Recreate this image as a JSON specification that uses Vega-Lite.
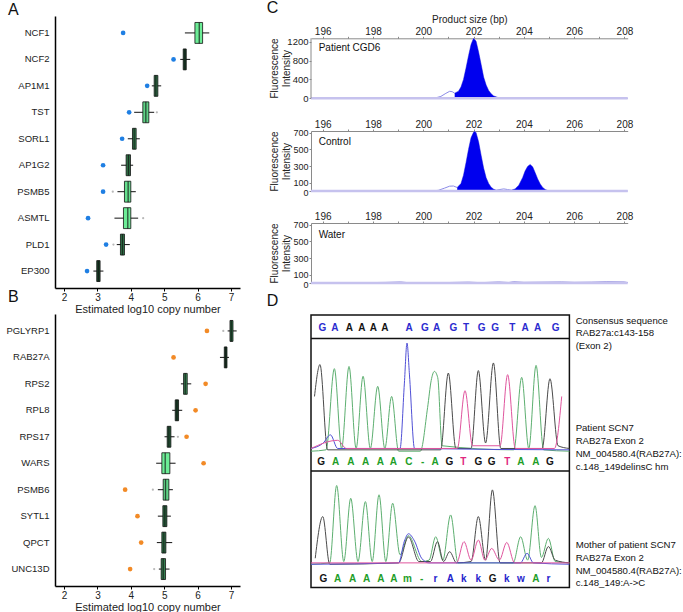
{
  "$schema": "https://vega.github.io/schema/vega-lite/v6.json",
  "padding": {"left": 5, "top": 0, "right": 0, "bottom": 0},
  "config": {
    "font": "Liberation Sans",
    "view": {"stroke": null},
    "title": {"fontWeight": "normal", "color": "#111"},
    "axis": {"labelColor": "#222", "titleColor": "#222", "grid": false, "titleFontWeight": "normal", "labelOverlap": false, "labelFlush": false}
  },
  "datasets": {
    "boxA": [
      {"gene": "NCF1", "lo": 5.62, "q1": 5.92, "med": 6.05, "q3": 6.15, "hi": 6.35, "sample": 3.77, "shade": 0.22},
      {"gene": "NCF2", "lo": 5.48, "q1": 5.57, "med": 5.62, "q3": 5.66, "hi": 5.78, "sample": 5.28, "shade": 0.08},
      {"gene": "AP1M1", "lo": 4.63, "q1": 4.70, "med": 4.75, "q3": 4.81, "hi": 4.91, "sample": 4.49, "shade": 0.12},
      {"gene": "TST", "lo": 4.10, "q1": 4.36, "med": 4.45, "q3": 4.54, "hi": 4.70, "sample": 3.95, "shade": 0.20},
      {"gene": "SORL1", "lo": 3.91, "q1": 4.05, "med": 4.10, "q3": 4.16, "hi": 4.27, "sample": 3.74, "shade": 0.13},
      {"gene": "AP1G2", "lo": 3.71, "q1": 3.86, "med": 3.93, "q3": 3.99, "hi": 4.07, "sample": 3.17, "shade": 0.12},
      {"gene": "PSMB5", "lo": 3.60, "q1": 3.81, "med": 3.92, "q3": 4.00, "hi": 4.15, "sample": 3.17, "shade": 0.21},
      {"gene": "ASMTL", "lo": 3.51, "q1": 3.78, "med": 3.91, "q3": 4.00, "hi": 4.22, "sample": 2.72, "shade": 0.22},
      {"gene": "PLD1", "lo": 3.58, "q1": 3.69, "med": 3.75, "q3": 3.81, "hi": 3.97, "sample": 3.26, "shade": 0.12},
      {"gene": "EP300", "lo": 2.88, "q1": 2.98, "med": 3.03, "q3": 3.08, "hi": 3.18, "sample": 2.69, "shade": 0.08}
    ],
    "boxB": [
      {"gene": "PGLYRP1", "lo": 6.90, "q1": 6.97, "med": 7.01, "q3": 7.06, "hi": 7.17, "sample": 6.28, "shade": 0.12},
      {"gene": "RAB27A", "lo": 6.67, "q1": 6.80, "med": 6.84, "q3": 6.88, "hi": 6.94, "sample": 5.28, "shade": 0.08},
      {"gene": "RPS2", "lo": 5.50, "q1": 5.58, "med": 5.63, "q3": 5.69, "hi": 5.81, "sample": 6.24, "shade": 0.14},
      {"gene": "RPL8", "lo": 5.24, "q1": 5.33, "med": 5.38, "q3": 5.43, "hi": 5.54, "sample": 5.94, "shade": 0.08},
      {"gene": "RPS17", "lo": 5.01, "q1": 5.09, "med": 5.14, "q3": 5.20, "hi": 5.31, "sample": 5.67, "shade": 0.10},
      {"gene": "WARS", "lo": 4.76, "q1": 4.93, "med": 5.03, "q3": 5.17, "hi": 5.34, "sample": 6.18, "shade": 0.22},
      {"gene": "PSMB6", "lo": 4.81, "q1": 4.97, "med": 5.04, "q3": 5.14, "hi": 5.26, "sample": 3.83, "shade": 0.20},
      {"gene": "SYTL1", "lo": 4.81, "q1": 4.96, "med": 5.02, "q3": 5.08, "hi": 5.20, "sample": 4.20, "shade": 0.11},
      {"gene": "QPCT", "lo": 4.78, "q1": 4.93, "med": 4.99, "q3": 5.05, "hi": 5.24, "sample": 4.31, "shade": 0.12},
      {"gene": "UNC13D", "lo": 4.84, "q1": 4.91, "med": 4.97, "q3": 5.04, "hi": 5.16, "sample": 3.98, "shade": 0.13}
    ],
    "outA": [
      {"gene": "TST", "value": 4.78},
      {"gene": "PSMB5", "value": 3.46},
      {"gene": "ASMTL", "value": 4.37},
      {"gene": "PLD1", "value": 3.48}
    ],
    "outB": [
      {"gene": "PGLYRP1", "value": 6.77},
      {"gene": "RPS17", "value": 5.41},
      {"gene": "PSMB6", "value": 4.66},
      {"gene": "UNC13D", "value": 4.70}
    ],
    "ce": [
      {"panel": "CGD6", "seg": "flat", "bp": 195.53, "v": 0},
      {"panel": "CGD6", "seg": "flat", "bp": 199.8, "v": 0},
      {"panel": "CGD6", "seg": "flat", "bp": 200.3, "v": 3},
      {"panel": "CGD6", "seg": "bump", "bp": 200.5, "v": 10},
      {"panel": "CGD6", "seg": "bump", "bp": 200.7, "v": 40},
      {"panel": "CGD6", "seg": "bump", "bp": 200.9, "v": 105},
      {"panel": "CGD6", "seg": "bump", "bp": 201.05, "v": 148},
      {"panel": "CGD6", "seg": "bump", "bp": 201.15, "v": 140},
      {"panel": "CGD6", "seg": "bump", "bp": 201.25, "v": 108},
      {"panel": "CGD6", "seg": "peak1", "bp": 201.25, "v": 108},
      {"panel": "CGD6", "seg": "peak1", "bp": 201.4, "v": 150},
      {"panel": "CGD6", "seg": "peak1", "bp": 201.5, "v": 240},
      {"panel": "CGD6", "seg": "peak1", "bp": 201.6, "v": 400},
      {"panel": "CGD6", "seg": "peak1", "bp": 201.7, "v": 640},
      {"panel": "CGD6", "seg": "peak1", "bp": 201.8, "v": 900},
      {"panel": "CGD6", "seg": "peak1", "bp": 201.9, "v": 1140},
      {"panel": "CGD6", "seg": "peak1", "bp": 202.0, "v": 1270},
      {"panel": "CGD6", "seg": "peak1", "bp": 202.1, "v": 1210},
      {"panel": "CGD6", "seg": "peak1", "bp": 202.2, "v": 980},
      {"panel": "CGD6", "seg": "peak1", "bp": 202.3, "v": 720},
      {"panel": "CGD6", "seg": "peak1", "bp": 202.4, "v": 450},
      {"panel": "CGD6", "seg": "peak1", "bp": 202.5, "v": 280},
      {"panel": "CGD6", "seg": "peak1", "bp": 202.6, "v": 165},
      {"panel": "CGD6", "seg": "peak1", "bp": 202.7, "v": 95},
      {"panel": "CGD6", "seg": "peak1", "bp": 202.8, "v": 50},
      {"panel": "CGD6", "seg": "peak1", "bp": 202.95, "v": 20},
      {"panel": "CGD6", "seg": "peak1", "bp": 203.1, "v": 6},
      {"panel": "CGD6", "seg": "peak1", "bp": 203.3, "v": 0},
      {"panel": "CGD6", "seg": "flat", "bp": 204.0, "v": 0},
      {"panel": "CGD6", "seg": "flat", "bp": 208.13, "v": 0},
      {"panel": "Control", "seg": "flat", "bp": 195.53, "v": 0},
      {"panel": "Control", "seg": "flat", "bp": 200.3, "v": 0},
      {"panel": "Control", "seg": "bump", "bp": 200.6, "v": 8},
      {"panel": "Control", "seg": "bump", "bp": 200.85, "v": 35},
      {"panel": "Control", "seg": "bump", "bp": 201.05, "v": 58},
      {"panel": "Control", "seg": "bump", "bp": 201.2, "v": 60},
      {"panel": "Control", "seg": "bump", "bp": 201.35, "v": 42},
      {"panel": "Control", "seg": "peak1", "bp": 201.35, "v": 42},
      {"panel": "Control", "seg": "peak1", "bp": 201.5, "v": 90},
      {"panel": "Control", "seg": "peak1", "bp": 201.6, "v": 190},
      {"panel": "Control", "seg": "peak1", "bp": 201.7, "v": 340},
      {"panel": "Control", "seg": "peak1", "bp": 201.8, "v": 500},
      {"panel": "Control", "seg": "peak1", "bp": 201.9, "v": 640},
      {"panel": "Control", "seg": "peak1", "bp": 202.0, "v": 705},
      {"panel": "Control", "seg": "peak1", "bp": 202.05, "v": 718},
      {"panel": "Control", "seg": "peak1", "bp": 202.1, "v": 700},
      {"panel": "Control", "seg": "peak1", "bp": 202.2, "v": 590},
      {"panel": "Control", "seg": "peak1", "bp": 202.3, "v": 430},
      {"panel": "Control", "seg": "peak1", "bp": 202.4, "v": 275},
      {"panel": "Control", "seg": "peak1", "bp": 202.5, "v": 160},
      {"panel": "Control", "seg": "peak1", "bp": 202.6, "v": 90},
      {"panel": "Control", "seg": "peak1", "bp": 202.7, "v": 45},
      {"panel": "Control", "seg": "peak1", "bp": 202.8, "v": 22},
      {"panel": "Control", "seg": "peak1", "bp": 202.9, "v": 10},
      {"panel": "Control", "seg": "gap", "bp": 203.05, "v": 18},
      {"panel": "Control", "seg": "gap", "bp": 203.2, "v": 25},
      {"panel": "Control", "seg": "gap", "bp": 203.35, "v": 18},
      {"panel": "Control", "seg": "gap", "bp": 203.5, "v": 10},
      {"panel": "Control", "seg": "peak2", "bp": 203.5, "v": 10},
      {"panel": "Control", "seg": "peak2", "bp": 203.65, "v": 25},
      {"panel": "Control", "seg": "peak2", "bp": 203.8, "v": 70},
      {"panel": "Control", "seg": "peak2", "bp": 203.95, "v": 160},
      {"panel": "Control", "seg": "peak2", "bp": 204.05, "v": 240},
      {"panel": "Control", "seg": "peak2", "bp": 204.15, "v": 295},
      {"panel": "Control", "seg": "peak2", "bp": 204.25, "v": 318},
      {"panel": "Control", "seg": "peak2", "bp": 204.35, "v": 290},
      {"panel": "Control", "seg": "peak2", "bp": 204.45, "v": 220},
      {"panel": "Control", "seg": "peak2", "bp": 204.55, "v": 145},
      {"panel": "Control", "seg": "peak2", "bp": 204.65, "v": 85},
      {"panel": "Control", "seg": "peak2", "bp": 204.75, "v": 42},
      {"panel": "Control", "seg": "peak2", "bp": 204.85, "v": 18},
      {"panel": "Control", "seg": "peak2", "bp": 204.95, "v": 6},
      {"panel": "Control", "seg": "peak2", "bp": 205.1, "v": 0},
      {"panel": "Control", "seg": "flat", "bp": 208.13, "v": 0},
      {"panel": "Water", "seg": "flat", "bp": 195.53, "v": 3},
      {"panel": "Water", "seg": "flat", "bp": 196.5, "v": 6},
      {"panel": "Water", "seg": "flat", "bp": 197.3, "v": 3},
      {"panel": "Water", "seg": "flat", "bp": 198.5, "v": 7},
      {"panel": "Water", "seg": "flat", "bp": 199.1, "v": 12},
      {"panel": "Water", "seg": "flat", "bp": 199.4, "v": 4},
      {"panel": "Water", "seg": "flat", "bp": 200.5, "v": 3},
      {"panel": "Water", "seg": "flat", "bp": 201.8, "v": 10},
      {"panel": "Water", "seg": "flat", "bp": 202.3, "v": 4},
      {"panel": "Water", "seg": "flat", "bp": 203.0, "v": 12},
      {"panel": "Water", "seg": "flat", "bp": 203.4, "v": 6},
      {"panel": "Water", "seg": "flat", "bp": 203.6, "v": 14},
      {"panel": "Water", "seg": "flat", "bp": 204.0, "v": 8},
      {"panel": "Water", "seg": "flat", "bp": 205.5, "v": 12},
      {"panel": "Water", "seg": "flat", "bp": 206.0, "v": 8},
      {"panel": "Water", "seg": "flat", "bp": 206.7, "v": 10},
      {"panel": "Water", "seg": "flat", "bp": 207.3, "v": 14},
      {"panel": "Water", "seg": "flat", "bp": 208.0, "v": 12},
      {"panel": "Water", "seg": "flat", "bp": 208.13, "v": 5}
    ],
    "trace": [
      {"lane": "pA", "dye": "A", "pos": 0.16, "sig": 50},
      {"lane": "pA", "dye": "A", "pos": 1.2, "sig": 50.5},
      {"lane": "pA", "dye": "A", "pos": 1.77, "sig": 80.3},
      {"lane": "pA", "dye": "A", "pos": 2.27, "sig": 51},
      {"lane": "pA", "dye": "A", "pos": 2.78, "sig": 81.1},
      {"lane": "pA", "dye": "A", "pos": 3.27, "sig": 51},
      {"lane": "pA", "dye": "A", "pos": 3.75, "sig": 77.5},
      {"lane": "pA", "dye": "A", "pos": 4.25, "sig": 51},
      {"lane": "pA", "dye": "A", "pos": 4.76, "sig": 73.8},
      {"lane": "pA", "dye": "A", "pos": 5.25, "sig": 51},
      {"lane": "pA", "dye": "A", "pos": 5.72, "sig": 70.1},
      {"lane": "pA", "dye": "A", "pos": 6.2, "sig": 50},
      {"lane": "pA", "dye": "A", "pos": 7.7, "sig": 50},
      {"lane": "pA", "dye": "A", "pos": 8.2, "sig": 66},
      {"lane": "pA", "dye": "A", "pos": 8.45, "sig": 76},
      {"lane": "pA", "dye": "A", "pos": 8.67, "sig": 79.3},
      {"lane": "pA", "dye": "A", "pos": 8.9, "sig": 77},
      {"lane": "pA", "dye": "A", "pos": 9.2, "sig": 52},
      {"lane": "pA", "dye": "A", "pos": 14.15, "sig": 50.5},
      {"lane": "pA", "dye": "A", "pos": 14.69, "sig": 77.1},
      {"lane": "pA", "dye": "A", "pos": 15.18, "sig": 51},
      {"lane": "pA", "dye": "A", "pos": 15.68, "sig": 81.5},
      {"lane": "pA", "dye": "A", "pos": 16.2, "sig": 50.5},
      {"lane": "pA", "dye": "A", "pos": 17.98, "sig": 50},
      {"lane": "pG", "dye": "G", "pos": 0.4, "sig": 70.1},
      {"lane": "pG", "dye": "G", "pos": 0.78, "sig": 81.8},
      {"lane": "pG", "dye": "G", "pos": 1.3, "sig": 50.5},
      {"lane": "pG", "dye": "G", "pos": 9.1, "sig": 50.5},
      {"lane": "pG", "dye": "G", "pos": 9.63, "sig": 78.7},
      {"lane": "pG", "dye": "G", "pos": 10.15, "sig": 51},
      {"lane": "pG", "dye": "G", "pos": 11.2, "sig": 51},
      {"lane": "pG", "dye": "G", "pos": 11.7, "sig": 79.6},
      {"lane": "pG", "dye": "G", "pos": 12.2, "sig": 53},
      {"lane": "pG", "dye": "G", "pos": 12.74, "sig": 82.4},
      {"lane": "pG", "dye": "G", "pos": 13.25, "sig": 51},
      {"lane": "pG", "dye": "G", "pos": 16.1, "sig": 51},
      {"lane": "pG", "dye": "G", "pos": 16.64, "sig": 76.6},
      {"lane": "pG", "dye": "G", "pos": 17.2, "sig": 52},
      {"lane": "pG", "dye": "G", "pos": 17.98, "sig": 51},
      {"lane": "pC", "dye": "C", "pos": 0.16, "sig": 51},
      {"lane": "pC", "dye": "C", "pos": 1.0, "sig": 53},
      {"lane": "pC", "dye": "C", "pos": 1.5, "sig": 56},
      {"lane": "pC", "dye": "C", "pos": 2.0, "sig": 51},
      {"lane": "pC", "dye": "C", "pos": 6.3, "sig": 51},
      {"lane": "pC", "dye": "C", "pos": 6.6, "sig": 75},
      {"lane": "pC", "dye": "C", "pos": 6.78, "sig": 89.7},
      {"lane": "pC", "dye": "C", "pos": 6.95, "sig": 78},
      {"lane": "pC", "dye": "C", "pos": 7.3, "sig": 51},
      {"lane": "pC", "dye": "C", "pos": 17.98, "sig": 50.5},
      {"lane": "pT", "dye": "T", "pos": 0.16, "sig": 51},
      {"lane": "pT", "dye": "T", "pos": 2.0, "sig": 54},
      {"lane": "pT", "dye": "T", "pos": 2.6, "sig": 51},
      {"lane": "pT", "dye": "T", "pos": 10.25, "sig": 51},
      {"lane": "pT", "dye": "T", "pos": 10.78, "sig": 72.2},
      {"lane": "pT", "dye": "T", "pos": 11.3, "sig": 52},
      {"lane": "pT", "dye": "T", "pos": 13.2, "sig": 52},
      {"lane": "pT", "dye": "T", "pos": 13.72, "sig": 78.1},
      {"lane": "pT", "dye": "T", "pos": 14.25, "sig": 51},
      {"lane": "pT", "dye": "T", "pos": 16.95, "sig": 51},
      {"lane": "pT", "dye": "T", "pos": 17.45, "sig": 70.1},
      {"lane": "mA", "dye": "A", "pos": 0.16, "sig": 8.5},
      {"lane": "mA", "dye": "A", "pos": 1.45, "sig": 9},
      {"lane": "mA", "dye": "A", "pos": 1.93, "sig": 37.4},
      {"lane": "mA", "dye": "A", "pos": 2.42, "sig": 9.5},
      {"lane": "mA", "dye": "A", "pos": 2.9, "sig": 32.7},
      {"lane": "mA", "dye": "A", "pos": 3.4, "sig": 9.5},
      {"lane": "mA", "dye": "A", "pos": 3.91, "sig": 31.5},
      {"lane": "mA", "dye": "A", "pos": 4.38, "sig": 9.5},
      {"lane": "mA", "dye": "A", "pos": 4.85, "sig": 34.0},
      {"lane": "mA", "dye": "A", "pos": 5.32, "sig": 9.5},
      {"lane": "mA", "dye": "A", "pos": 5.79, "sig": 30.9},
      {"lane": "mA", "dye": "A", "pos": 6.3, "sig": 12},
      {"lane": "mA", "dye": "A", "pos": 6.88, "sig": 19.0},
      {"lane": "mA", "dye": "A", "pos": 7.8, "sig": 9.5},
      {"lane": "mA", "dye": "A", "pos": 8.3, "sig": 10},
      {"lane": "mA", "dye": "A", "pos": 8.76, "sig": 18.6},
      {"lane": "mA", "dye": "A", "pos": 9.25, "sig": 10},
      {"lane": "mA", "dye": "A", "pos": 9.79, "sig": 26.6},
      {"lane": "mA", "dye": "A", "pos": 10.3, "sig": 9},
      {"lane": "mA", "dye": "A", "pos": 14.1, "sig": 9},
      {"lane": "mA", "dye": "A", "pos": 14.62, "sig": 18.6},
      {"lane": "mA", "dye": "A", "pos": 15.1, "sig": 10},
      {"lane": "mA", "dye": "A", "pos": 15.61, "sig": 30.0},
      {"lane": "mA", "dye": "A", "pos": 16.05, "sig": 11},
      {"lane": "mA", "dye": "A", "pos": 16.53, "sig": 18.0},
      {"lane": "mA", "dye": "A", "pos": 17.0, "sig": 9.5},
      {"lane": "mA", "dye": "A", "pos": 17.98, "sig": 9},
      {"lane": "mG", "dye": "G", "pos": 0.45, "sig": 10.7},
      {"lane": "mG", "dye": "G", "pos": 0.97, "sig": 26.0},
      {"lane": "mG", "dye": "G", "pos": 1.45, "sig": 8.5},
      {"lane": "mG", "dye": "G", "pos": 6.2, "sig": 9},
      {"lane": "mG", "dye": "G", "pos": 6.88, "sig": 18.5},
      {"lane": "mG", "dye": "G", "pos": 7.6, "sig": 9.5},
      {"lane": "mG", "dye": "G", "pos": 8.4, "sig": 9.5},
      {"lane": "mG", "dye": "G", "pos": 8.88, "sig": 16.8},
      {"lane": "mG", "dye": "G", "pos": 9.3, "sig": 9.5},
      {"lane": "mG", "dye": "G", "pos": 9.72, "sig": 13.1},
      {"lane": "mG", "dye": "G", "pos": 10.2, "sig": 9},
      {"lane": "mG", "dye": "G", "pos": 11.2, "sig": 9.5},
      {"lane": "mG", "dye": "G", "pos": 11.7, "sig": 26.0},
      {"lane": "mG", "dye": "G", "pos": 12.2, "sig": 10},
      {"lane": "mG", "dye": "G", "pos": 12.67, "sig": 35.8},
      {"lane": "mG", "dye": "G", "pos": 13.2, "sig": 9},
      {"lane": "mG", "dye": "G", "pos": 16.05, "sig": 9},
      {"lane": "mG", "dye": "G", "pos": 16.53, "sig": 15.0},
      {"lane": "mG", "dye": "G", "pos": 17.0, "sig": 10},
      {"lane": "mG", "dye": "G", "pos": 17.98, "sig": 9},
      {"lane": "mC", "dye": "C", "pos": 0.16, "sig": 8.5},
      {"lane": "mC", "dye": "C", "pos": 6.2, "sig": 9},
      {"lane": "mC", "dye": "C", "pos": 6.6, "sig": 17},
      {"lane": "mC", "dye": "C", "pos": 6.88, "sig": 19.7},
      {"lane": "mC", "dye": "C", "pos": 7.3, "sig": 17},
      {"lane": "mC", "dye": "C", "pos": 7.79, "sig": 10.7},
      {"lane": "mC", "dye": "C", "pos": 8.3, "sig": 9},
      {"lane": "mC", "dye": "C", "pos": 14.6, "sig": 9},
      {"lane": "mC", "dye": "C", "pos": 15.06, "sig": 12.5},
      {"lane": "mC", "dye": "C", "pos": 15.5, "sig": 9},
      {"lane": "mC", "dye": "C", "pos": 17.98, "sig": 8.5},
      {"lane": "mT", "dye": "T", "pos": 0.16, "sig": 9},
      {"lane": "mT", "dye": "T", "pos": 10.2, "sig": 9},
      {"lane": "mT", "dye": "T", "pos": 10.71, "sig": 16.8},
      {"lane": "mT", "dye": "T", "pos": 11.2, "sig": 10},
      {"lane": "mT", "dye": "T", "pos": 11.7, "sig": 17.4},
      {"lane": "mT", "dye": "T", "pos": 12.15, "sig": 10},
      {"lane": "mT", "dye": "T", "pos": 12.62, "sig": 14.3},
      {"lane": "mT", "dye": "T", "pos": 13.15, "sig": 10},
      {"lane": "mT", "dye": "T", "pos": 13.66, "sig": 16.5},
      {"lane": "mT", "dye": "T", "pos": 14.2, "sig": 9},
      {"lane": "mT", "dye": "T", "pos": 17.98, "sig": 9}
    ],
    "seq": [
      {"lane": "consensus", "pos": 0.94, "base": "G", "dye": "cons"},
      {"lane": "consensus", "pos": 1.81, "base": "A", "dye": "cons"},
      {"lane": "consensus", "pos": 2.81, "base": "A", "dye": "consk"},
      {"lane": "consensus", "pos": 3.66, "base": "A", "dye": "consk"},
      {"lane": "consensus", "pos": 4.46, "base": "A", "dye": "consk"},
      {"lane": "consensus", "pos": 5.26, "base": "A", "dye": "consk"},
      {"lane": "consensus", "pos": 6.92, "base": "A", "dye": "cons"},
      {"lane": "consensus", "pos": 8.02, "base": "G", "dye": "cons"},
      {"lane": "consensus", "pos": 8.83, "base": "A", "dye": "cons"},
      {"lane": "consensus", "pos": 9.98, "base": "G", "dye": "cons"},
      {"lane": "consensus", "pos": 10.85, "base": "T", "dye": "cons"},
      {"lane": "consensus", "pos": 11.93, "base": "G", "dye": "cons"},
      {"lane": "consensus", "pos": 12.85, "base": "G", "dye": "cons"},
      {"lane": "consensus", "pos": 14.05, "base": "T", "dye": "cons"},
      {"lane": "consensus", "pos": 14.92, "base": "A", "dye": "cons"},
      {"lane": "consensus", "pos": 15.79, "base": "A", "dye": "cons"},
      {"lane": "consensus", "pos": 17.03, "base": "G", "dye": "cons"},
      {"lane": "patient", "pos": 0.85, "base": "G", "dye": "G"},
      {"lane": "patient", "pos": 1.86, "base": "A", "dye": "A"},
      {"lane": "patient", "pos": 2.9, "base": "A", "dye": "A"},
      {"lane": "patient", "pos": 3.93, "base": "A", "dye": "A"},
      {"lane": "patient", "pos": 4.94, "base": "A", "dye": "A"},
      {"lane": "patient", "pos": 5.84, "base": "A", "dye": "A"},
      {"lane": "patient", "pos": 6.9, "base": "C", "dye": "A"},
      {"lane": "patient", "pos": 7.86, "base": "-", "dye": "A"},
      {"lane": "patient", "pos": 8.71, "base": "A", "dye": "A"},
      {"lane": "patient", "pos": 9.7, "base": "G", "dye": "G"},
      {"lane": "patient", "pos": 10.67, "base": "T", "dye": "T"},
      {"lane": "patient", "pos": 11.7, "base": "G", "dye": "G"},
      {"lane": "patient", "pos": 12.62, "base": "G", "dye": "G"},
      {"lane": "patient", "pos": 13.7, "base": "T", "dye": "T"},
      {"lane": "patient", "pos": 14.64, "base": "A", "dye": "A"},
      {"lane": "patient", "pos": 15.66, "base": "A", "dye": "A"},
      {"lane": "patient", "pos": 16.64, "base": "G", "dye": "G"},
      {"lane": "mother", "pos": 1.01, "base": "G", "dye": "G"},
      {"lane": "mother", "pos": 2.0, "base": "A", "dye": "A"},
      {"lane": "mother", "pos": 3.03, "base": "A", "dye": "A"},
      {"lane": "mother", "pos": 4.0, "base": "A", "dye": "A"},
      {"lane": "mother", "pos": 4.97, "base": "A", "dye": "A"},
      {"lane": "mother", "pos": 5.88, "base": "A", "dye": "A"},
      {"lane": "mother", "pos": 6.81, "base": "m", "dye": "A"},
      {"lane": "mother", "pos": 7.79, "base": "-", "dye": "A"},
      {"lane": "mother", "pos": 8.74, "base": "r", "dye": "N"},
      {"lane": "mother", "pos": 9.77, "base": "A", "dye": "N"},
      {"lane": "mother", "pos": 10.69, "base": "k", "dye": "N"},
      {"lane": "mother", "pos": 11.7, "base": "k", "dye": "N"},
      {"lane": "mother", "pos": 12.69, "base": "G", "dye": "G"},
      {"lane": "mother", "pos": 13.66, "base": "k", "dye": "N"},
      {"lane": "mother", "pos": 14.64, "base": "w", "dye": "N"},
      {"lane": "mother", "pos": 15.66, "base": "A", "dye": "A"},
      {"lane": "mother", "pos": 16.53, "base": "r", "dye": "N"}
    ]
  },
  "spacing": 25,
  "hconcat": [
    {
      "bounds": "flush",
      "spacing": 26,
      "vconcat": [
        {
          "width": 185,
          "height": 272,
          "title": {"text": "A", "anchor": "start", "frame": "group", "dx": -47, "offset": -2, "fontSize": 16},
          "encoding": {
            "y": {"field": "gene", "type": "nominal", "title": null,
              "scale": {"domain": ["NCF1", "NCF2", "AP1M1", "TST", "SORL1", "AP1G2", "PSMB5", "ASMTL", "PLD1", "EP300"], "paddingInner": 0, "paddingOuter": 0.14},
              "axis": {"ticks": false, "labelPadding": 6, "labelFontSize": 9.5, "domainColor": "#000", "domainWidth": 1.5}}
          },
          "layer": [
            {"data": {"name": "boxA"}, "mark": {"type": "rule", "color": "#111", "strokeWidth": 1},
              "encoding": {
                "x": {"field": "lo", "type": "quantitative", "title": "Estimated log10 copy number",
                  "scale": {"domain": [1.73, 7.27], "nice": false, "zero": false},
                  "axis": {"values": [2, 3, 4, 5, 6, 7], "tickCount": 20, "format": "d", "domainColor": "#000", "domainWidth": 1.5, "tickColor": "#000", "tickSize": 3, "labelFontSize": 10, "labelPadding": 1, "titleFontSize": 11, "titlePadding": 1}},
                "x2": {"field": "hi"}}},
            {"data": {"name": "outA"}, "mark": {"type": "circle", "color": "#b8b8b8", "size": 5, "opacity": 1},
              "encoding": {"x": {"field": "value", "type": "quantitative", "title": "Estimated log10 copy number"}}},
            {"data": {"name": "boxA"}, "mark": {"type": "bar", "height": {"band": 0.79}, "stroke": "#111", "strokeWidth": 0.8},
              "encoding": {
                "x": {"field": "q1", "type": "quantitative", "title": "Estimated log10 copy number"},
                "x2": {"field": "q3"},
                "color": {"field": "shade", "type": "quantitative", "scale": {"domain": [0.08, 0.22], "range": ["#1b4a2d", "#6cec96"]}, "legend": null}}},
            {"data": {"name": "boxA"}, "mark": {"type": "tick", "orient": "vertical", "size": 21, "thickness": 1.3, "color": "#111"},
              "encoding": {"x": {"field": "med", "type": "quantitative", "title": "Estimated log10 copy number"}}},
            {"data": {"name": "boxA"}, "mark": {"type": "circle", "size": 22, "color": "#1f7fe3", "opacity": 1},
              "encoding": {"x": {"field": "sample", "type": "quantitative", "title": "Estimated log10 copy number"}}}
          ]
        },
        {
          "width": 185,
          "height": 272,
          "title": {"text": "B", "anchor": "start", "frame": "group", "dx": -47, "offset": 9, "fontSize": 16},
          "encoding": {
            "y": {"field": "gene", "type": "nominal", "title": null,
              "scale": {"domain": ["PGLYRP1", "RAB27A", "RPS2", "RPL8", "RPS17", "WARS", "PSMB6", "SYTL1", "QPCT", "UNC13D"], "paddingInner": 0, "paddingOuter": 0.14},
              "axis": {"ticks": false, "labelPadding": 6, "labelFontSize": 9.5, "domainColor": "#000", "domainWidth": 1.5}}
          },
          "layer": [
            {"data": {"name": "boxB"}, "mark": {"type": "rule", "color": "#111", "strokeWidth": 1},
              "encoding": {
                "x": {"field": "lo", "type": "quantitative", "title": "Estimated log10 copy number",
                  "scale": {"domain": [1.73, 7.27], "nice": false, "zero": false},
                  "axis": {"values": [2, 3, 4, 5, 6, 7], "tickCount": 20, "format": "d", "domainColor": "#000", "domainWidth": 1.5, "tickColor": "#000", "tickSize": 3, "labelFontSize": 10, "labelPadding": 1, "titleFontSize": 11, "titlePadding": 1}},
                "x2": {"field": "hi"}}},
            {"data": {"name": "outB"}, "mark": {"type": "circle", "color": "#b8b8b8", "size": 5, "opacity": 1},
              "encoding": {"x": {"field": "value", "type": "quantitative", "title": "Estimated log10 copy number"}}},
            {"data": {"name": "boxB"}, "mark": {"type": "bar", "height": {"band": 0.79}, "stroke": "#111", "strokeWidth": 0.8},
              "encoding": {
                "x": {"field": "q1", "type": "quantitative", "title": "Estimated log10 copy number"},
                "x2": {"field": "q3"},
                "color": {"field": "shade", "type": "quantitative", "scale": {"domain": [0.08, 0.22], "range": ["#1b4a2d", "#6cec96"]}, "legend": null}}},
            {"data": {"name": "boxB"}, "mark": {"type": "tick", "orient": "vertical", "size": 21, "thickness": 1.3, "color": "#111"},
              "encoding": {"x": {"field": "med", "type": "quantitative", "title": "Estimated log10 copy number"}}},
            {"data": {"name": "boxB"}, "mark": {"type": "circle", "size": 22, "color": "#f28a26", "opacity": 1},
              "encoding": {"x": {"field": "sample", "type": "quantitative", "title": "Estimated log10 copy number"}}}
          ]
        }
      ]
    },
    {
      "bounds": "flush",
      "spacing": 32,
      "vconcat": [
        {
          "width": 316.7,
          "height": 82.3,
          "title": {"text": "C", "anchor": "start", "frame": "group", "dx": -44.3, "offset": -2, "fontSize": 16},
          "data": {"name": "ce"},
          "layer": [
            {"transform": [{"filter": "datum.panel == 'CGD6'"}], "mark": {"type": "line", "color": "#8b8be8", "strokeWidth": 1},
              "encoding": {
                "x": {"field": "bp", "type": "quantitative", "title": "Product size (bp)",
                  "scale": {"domain": [195.535, 208.13], "nice": false, "zero": false},
                  "axis": {"orient": "top", "offset": -22.3, "values": [196, 197, 198, 199, 200, 201, 202, 203, 204, 205, 206, 207, 208], "tickCount": 30, "format": "d", "labelExpr": "datum.value % 2 == 0 ? datum.label : ''", "tickSize": 2, "labelPadding": 0, "titlePadding": 2, "domainColor": "#8a8a8a", "tickColor": "#8a8a8a", "labelFontSize": 10, "titleFontSize": 10}},
                "y": {"field": "v", "type": "quantitative", "title": ["Fluorescence", "Intensity"],
                  "scale": {"domain": [0, 1742], "nice": false},
                  "axis": {"values": [0, 400, 800, 1200], "tickCount": 20, "format": "d", "domain": false, "titleX": -32, "titleY": 52, "titleFontSize": 10, "titleLineHeight": 12, "tickSize": 2, "labelPadding": 1, "labelFontSize": 9.5, "tickColor": "#8a8a8a"}}}},
            {"transform": [{"filter": "datum.panel == 'CGD6' && (datum.seg == 'peak1' || datum.seg == 'peak2')"}], "mark": {"type": "area", "color": "#0000ee", "opacity": 1},
              "encoding": {
                "x": {"field": "bp", "type": "quantitative", "title": "Product size (bp)"},
                "y": {"field": "v", "type": "quantitative", "title": ["Fluorescence", "Intensity"]},
                "detail": {"field": "seg"}}},
            {"data": {"values": [{"level": 0}]}, "mark": {"type": "rule", "color": "#c6c2ee", "strokeWidth": 2.5},
              "encoding": {"y": {"field": "level", "type": "quantitative", "title": ["Fluorescence", "Intensity"]}}},
            {"data": {"values": [{"bp": 195.535, "lo": 0, "hi": 1270}]}, "mark": {"type": "rule", "color": "#8a8a8a", "strokeWidth": 1},
              "encoding": {"x": {"field": "bp", "type": "quantitative", "title": "Product size (bp)"}, "y": {"field": "lo", "type": "quantitative", "title": ["Fluorescence", "Intensity"]}, "y2": {"field": "hi"}}},
            {"data": {"values": [{"bp": 195.84, "v": 1065, "label": "Patient CGD6"}]}, "mark": {"type": "text", "align": "left", "baseline": "middle", "fontSize": 10, "color": "#111"},
              "encoding": {"x": {"field": "bp", "type": "quantitative", "title": "Product size (bp)"}, "y": {"field": "v", "type": "quantitative", "title": ["Fluorescence", "Intensity"]}, "text": {"field": "label"}}}
          ]
        },
        {
          "width": 316.7,
          "height": 60,
          "data": {"name": "ce"},
          "layer": [
            {"transform": [{"filter": "datum.panel == 'Control'"}], "mark": {"type": "line", "color": "#8b8be8", "strokeWidth": 1},
              "encoding": {
                "x": {"field": "bp", "type": "quantitative", "title": null,
                  "scale": {"domain": [195.535, 208.13], "nice": false, "zero": false},
                  "axis": {"orient": "top", "values": [196, 197, 198, 199, 200, 201, 202, 203, 204, 205, 206, 207, 208], "tickCount": 30, "format": "d", "labelExpr": "datum.value % 2 == 0 ? datum.label : ''", "tickSize": 2, "labelPadding": 0, "domainColor": "#8a8a8a", "tickColor": "#8a8a8a", "labelFontSize": 10}},
                "y": {"field": "v", "type": "quantitative", "title": ["Fluorescence", "Intensity"],
                  "scale": {"domain": [0, 720], "nice": false},
                  "axis": {"values": [0, 100, 300, 500, 700], "tickCount": 20, "format": "d", "labelOffset": {"condition": {"test": "datum.value == 0", "value": 1.2}, "value": 0}, "titleX": -32, "titleY": 30, "titleFontSize": 10, "titleLineHeight": 12, "tickSize": 2, "labelPadding": 1, "labelFontSize": 9, "domainColor": "#8a8a8a", "tickColor": "#8a8a8a"}}}},
            {"transform": [{"filter": "datum.panel == 'Control' && (datum.seg == 'peak1' || datum.seg == 'peak2')"}], "mark": {"type": "area", "color": "#0000ee", "opacity": 1},
              "encoding": {
                "x": {"field": "bp", "type": "quantitative", "title": null},
                "y": {"field": "v", "type": "quantitative", "title": ["Fluorescence", "Intensity"]},
                "detail": {"field": "seg"}}},
            {"data": {"values": [{"level": 0}]}, "mark": {"type": "rule", "color": "#c6c2ee", "strokeWidth": 2.5},
              "encoding": {"y": {"field": "level", "type": "quantitative", "title": ["Fluorescence", "Intensity"]}}},
            {"data": {"values": [{"bp": 195.84, "v": 584, "label": "Control"}]}, "mark": {"type": "text", "align": "left", "baseline": "middle", "fontSize": 10, "color": "#111"},
              "encoding": {"x": {"field": "bp", "type": "quantitative", "title": null}, "y": {"field": "v", "type": "quantitative", "title": ["Fluorescence", "Intensity"]}, "text": {"field": "label"}}}
          ]
        },
        {
          "width": 316.7,
          "height": 60,
          "data": {"name": "ce"},
          "layer": [
            {"transform": [{"filter": "datum.panel == 'Water'"}], "mark": {"type": "line", "color": "#7d78d8", "strokeWidth": 1},
              "encoding": {
                "x": {"field": "bp", "type": "quantitative", "title": null,
                  "scale": {"domain": [195.535, 208.13], "nice": false, "zero": false},
                  "axis": {"orient": "top", "values": [196, 197, 198, 199, 200, 201, 202, 203, 204, 205, 206, 207, 208], "tickCount": 30, "format": "d", "labelExpr": "datum.value % 2 == 0 ? datum.label : ''", "tickSize": 2, "labelPadding": 0, "domainColor": "#8a8a8a", "tickColor": "#8a8a8a", "labelFontSize": 10}},
                "y": {"field": "v", "type": "quantitative", "title": ["Fluorescence", "Intensity"],
                  "scale": {"domain": [0, 720], "nice": false},
                  "axis": {"values": [0, 100, 300, 500, 700], "tickCount": 20, "format": "d", "labelOffset": {"condition": {"test": "datum.value == 0", "value": 1.2}, "value": 0}, "titleX": -32, "titleY": 30, "titleFontSize": 10, "titleLineHeight": 12, "tickSize": 2, "labelPadding": 1, "labelFontSize": 9, "domainColor": "#8a8a8a", "tickColor": "#8a8a8a"}}}},
            {"data": {"values": [{"level": 0}]}, "mark": {"type": "rule", "color": "#c6c2ee", "strokeWidth": 2.5},
              "encoding": {"y": {"field": "level", "type": "quantitative", "title": ["Fluorescence", "Intensity"]}}},
            {"data": {"values": [{"bp": 195.84, "v": 580, "label": "Water"}]}, "mark": {"type": "text", "align": "left", "baseline": "middle", "fontSize": 10, "color": "#111"},
              "encoding": {"x": {"field": "bp", "type": "quantitative", "title": null}, "y": {"field": "v", "type": "quantitative", "title": ["Fluorescence", "Intensity"]}, "text": {"field": "label"}}}
          ]
        },
        {
          "width": 258.4,
          "height": 272.4,
          "title": {"text": "D", "anchor": "start", "frame": "group", "dx": -44.3, "offset": 6, "fontSize": 16},
          "view": {"stroke": "#111", "strokeWidth": 1.5},
          "resolve": {"scale": {"color": "independent"}},
          "layer": [
            {"data": {"name": "trace"}, "mark": {"type": "line", "interpolate": "monotone", "strokeWidth": 1},
              "encoding": {
                "x": {"field": "pos", "type": "quantitative", "scale": {"domain": [0.159, 17.98], "nice": false, "zero": false}, "axis": null},
                "y": {"field": "sig", "type": "quantitative", "scale": {"domain": [0, 100], "nice": false}, "axis": null},
                "color": {"field": "dye", "type": "nominal", "scale": {"domain": ["A", "G", "C", "T"], "range": ["#5daf70", "#4a4a4a", "#5050d6", "#e0559e"]}, "legend": null},
                "detail": {"field": "lane"}}},
            {"data": {"values": [{}]}, "mark": {"type": "rule", "color": "#111", "strokeWidth": 1.5},
              "encoding": {"y": {"datum": 91.4, "type": "quantitative"}}},
            {"data": {"values": [{}]}, "mark": {"type": "rule", "color": "#111", "strokeWidth": 1.5},
              "encoding": {"y": {"datum": 42.7, "type": "quantitative"}}},
            {"data": {"name": "seq"}, "transform": [{"filter": "datum.lane == 'consensus'"}],
              "mark": {"type": "text", "fontWeight": "bold", "fontSize": 10, "baseline": "middle"},
              "encoding": {
                "x": {"field": "pos", "type": "quantitative"},
                "y": {"datum": 95.4, "type": "quantitative"},
                "text": {"field": "base"},
                "color": {"field": "dye", "type": "nominal", "scale": {"domain": ["A", "G", "T", "N", "cons", "consk"], "range": ["#1e9e28", "#141414", "#e0287f", "#2424cc", "#2b2bcf", "#141414"]}, "legend": null}}},
            {"data": {"name": "seq"}, "transform": [{"filter": "datum.lane == 'patient'"}],
              "mark": {"type": "text", "fontWeight": "bold", "fontSize": 10, "baseline": "middle"},
              "encoding": {
                "x": {"field": "pos", "type": "quantitative"},
                "y": {"datum": 45.9, "type": "quantitative"},
                "text": {"field": "base"},
                "color": {"field": "dye", "type": "nominal", "scale": {"domain": ["A", "G", "T", "N", "cons", "consk"], "range": ["#1e9e28", "#141414", "#e0287f", "#2424cc", "#2b2bcf", "#141414"]}, "legend": null}}},
            {"data": {"name": "seq"}, "transform": [{"filter": "datum.lane == 'mother'"}],
              "mark": {"type": "text", "fontWeight": "bold", "fontSize": 10, "baseline": "middle"},
              "encoding": {
                "x": {"field": "pos", "type": "quantitative"},
                "y": {"datum": 3.1, "type": "quantitative"},
                "text": {"field": "base"},
                "color": {"field": "dye", "type": "nominal", "scale": {"domain": ["A", "G", "T", "N", "cons", "consk"], "range": ["#1e9e28", "#141414", "#e0287f", "#2424cc", "#2b2bcf", "#141414"]}, "legend": null}}},
            {"data": {"values": [{}]}, "mark": {"type": "text", "text": ["Consensus sequence", "RAB27a:c143-158", "(Exon 2)"], "align": "left", "baseline": "top", "fontSize": 9.6, "lineHeight": 12.7, "color": "#111"},
              "encoding": {"x": {"datum": 18.41, "type": "quantitative"}, "y": {"datum": 99.8, "type": "quantitative"}}},
            {"data": {"values": [{}]}, "mark": {"type": "text", "text": ["Patient SCN7", "RAB27a Exon 2", "NM_004580.4(RAB27A):", "c.148_149delinsC hm"], "align": "left", "baseline": "top", "fontSize": 9.6, "lineHeight": 12.7, "color": "#111"},
              "encoding": {"x": {"datum": 18.41, "type": "quantitative"}, "y": {"datum": 60.2, "type": "quantitative"}}},
            {"data": {"values": [{}]}, "mark": {"type": "text", "text": ["Mother of patient SCN7", "RAB27a Exon 2", "NM_004580.4(RAB27A):", "c.148_149:A->C"], "align": "left", "baseline": "top", "fontSize": 9.6, "lineHeight": 12.7, "color": "#111"},
              "encoding": {"x": {"datum": 18.41, "type": "quantitative"}, "y": {"datum": 17.3, "type": "quantitative"}}}
          ]
        }
      ]
    }
  ]
}
